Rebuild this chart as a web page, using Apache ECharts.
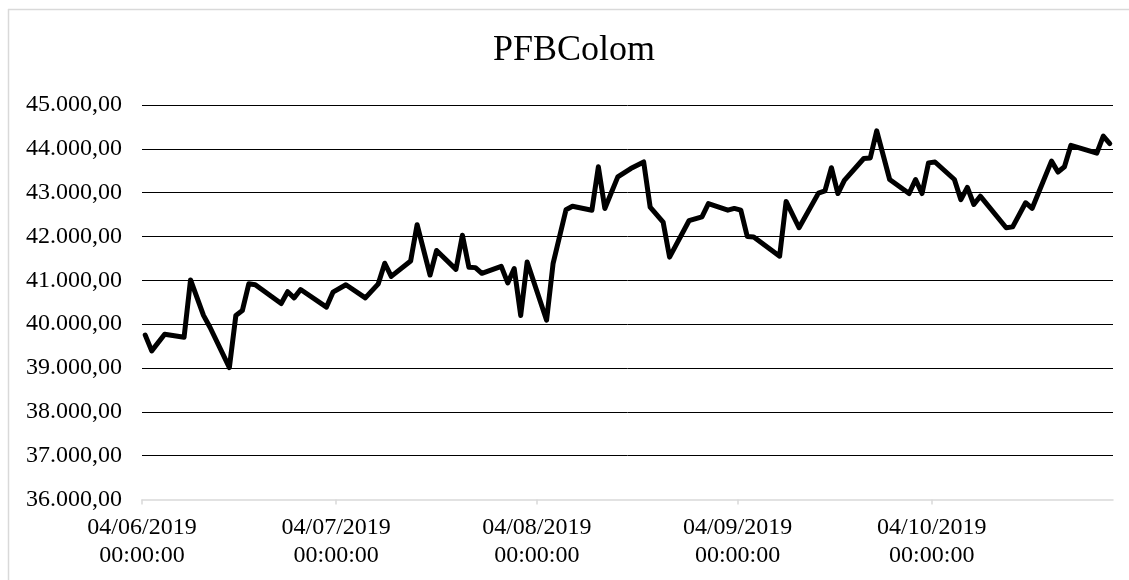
<!DOCTYPE html>
<html>
<head>
<meta charset="utf-8">
<script src="https://cdn.jsdelivr.net/npm/echarts@6/dist/echarts.min.js"></script>
<style>
html,body{margin:0;padding:0;background:#fff;}
#chart{width:1129px;height:580px;}
</style>
</head>
<body>
<div id="chart"></div>
<script>
const titleText = 'PFBColom';
const dates = [
'2019-06-04','2019-06-05','2019-06-07','2019-06-10','2019-06-11','2019-06-13','2019-06-14','2019-06-17','2019-06-18','2019-06-19',
'2019-06-20','2019-06-21','2019-06-25','2019-06-26','2019-06-27','2019-06-28','2019-07-02','2019-07-03','2019-07-05','2019-07-08',
'2019-07-10','2019-07-11','2019-07-12','2019-07-15','2019-07-16','2019-07-18','2019-07-19','2019-07-22','2019-07-23','2019-07-24',
'2019-07-25','2019-07-26','2019-07-29','2019-07-30','2019-07-31','2019-08-01','2019-08-02','2019-08-05','2019-08-06','2019-08-08',
'2019-08-09','2019-08-12','2019-08-13','2019-08-14','2019-08-16','2019-08-18','2019-08-20','2019-08-21','2019-08-23','2019-08-24',
'2019-08-27','2019-08-29','2019-08-30','2019-09-02','2019-09-03','2019-09-04','2019-09-05','2019-09-06','2019-09-10','2019-09-11',
'2019-09-13','2019-09-16','2019-09-17','2019-09-18','2019-09-19','2019-09-20','2019-09-23','2019-09-24','2019-09-25','2019-09-27',
'2019-09-30','2019-10-01','2019-10-02','2019-10-03','2019-10-04','2019-10-07','2019-10-08','2019-10-09','2019-10-10','2019-10-11',
'2019-10-15','2019-10-16','2019-10-18','2019-10-19','2019-10-22','2019-10-23','2019-10-24','2019-10-25','2019-10-29','2019-10-30',
'2019-10-31'
];
const values = [
39750,39390,39770,39700,41010,40200,39930,39010,40200,40310,
40920,40900,40470,40740,40600,40790,40390,40730,40900,40600,
40920,41390,41090,41440,42270,41120,41680,41250,42030,41300,
41290,41160,41320,40940,41270,40200,41420,40090,41380,42610,
42690,42600,43590,42640,43360,43550,43700,42670,42330,41530,
42360,42450,42750,42600,42640,42600,42000,41990,41550,42800,
42200,42990,43040,43570,42980,43280,43780,43790,44410,43300,
42980,43300,42980,43680,43700,43300,42840,43120,42730,42920,
42200,42220,42770,42640,43720,43470,43590,44080,43900,44290,
44120
];
const xTickDates = ['2019-06-04','2019-07-04','2019-08-04','2019-09-04','2019-10-04'];
const xMinDate = '2019-06-04';
const xMaxDate = '2019-11-01';
const yMin = 36000, yMax = 45000, yStep = 1000;

const HALF_DAY = 12*3600*1000;
function ts(s){const p=s.split('-').map(Number);return Date.UTC(p[0],p[1]-1,p[2]);}
function pad(n){return (n<10?'0':'')+n;}
function fmtDate(v){const d=new Date(v);return pad(d.getUTCDate())+'/'+pad(d.getUTCMonth()+1)+'/'+d.getUTCFullYear()+'\n00:00:00';}
function fmtNum(v){const s=Math.round(v).toString().replace(/\B(?=(\d{3})+(?!\d))/g,'.');return s+',00';}

const FONT = "'Liberation Serif','Times New Roman',serif";
const chart = echarts.init(document.getElementById('chart'), null, {renderer:'canvas'});
const tickVals = xTickDates.map(ts);
chart.setOption({
  animation:false,
  backgroundColor:'#ffffff',
  title:{text:titleText,left:493,top:33,padding:0,textStyle:{fontFamily:FONT,fontSize:36,fontWeight:'normal',color:'#000'}},
  graphic:[
    {type:'line',shape:{x1:8.5,y1:9,x2:8.5,y2:580},style:{stroke:'#d9d9d9',lineWidth:1.5},silent:true},
    {type:'line',shape:{x1:8,y1:9.5,x2:1129,y2:9.5},style:{stroke:'#d9d9d9',lineWidth:1.5},silent:true}
  ],
  grid:{left:142,right:16,top:105,bottom:80.5,containLabel:false},
  xAxis:{
    type:'value',
    min:ts(xMinDate),max:ts(xMaxDate),
    axisLine:{show:true,lineStyle:{color:'#d9d9d9',width:1.5}},
    axisTick:{show:true,customValues:tickVals,length:5,lineStyle:{color:'#d9d9d9',width:1.5}},
    axisLabel:{customValues:tickVals,formatter:fmtDate,fontFamily:FONT,fontSize:24,color:'#000',lineHeight:28,margin:14,hideOverlap:false},
    splitLine:{show:false}
  },
  yAxis:{
    type:'value',min:yMin,max:yMax,interval:yStep,
    axisLine:{show:false},axisTick:{show:false},
    axisLabel:{formatter:fmtNum,fontFamily:FONT,fontSize:24,color:'#000',margin:20},
    splitLine:{show:true,showMinLine:false,lineStyle:{color:'#000',width:1}}
  },
  series:[{
    type:'line',
    // each trading day is plotted at the middle of its day slot
    data:dates.map((d,i)=>[ts(d)+HALF_DAY,values[i]]),
    showSymbol:false,symbol:'none',
    lineStyle:{color:'#000',width:5,cap:'round',join:'round'},
    z:5
  }]
});
</script>
</body>
</html>
